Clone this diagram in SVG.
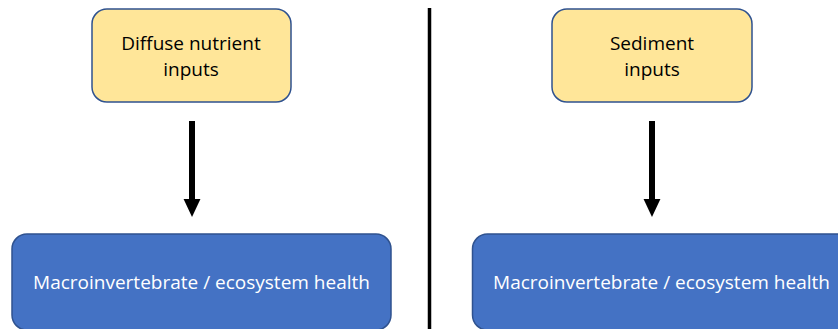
<svg xmlns="http://www.w3.org/2000/svg" width="838" height="329" viewBox="0 0 838 329">
<style>
.src{fill:#FFE699;stroke:#2F528F;stroke-width:1.5}
.dst{fill:#4472C4;stroke:#2F528F;stroke-width:1.5}
.t{font-family:"Open Sans","Liberation Sans",sans-serif;font-size:19px;text-anchor:middle}
.dk{fill:#000}
.wt{fill:#fff}
.conn{stroke:#000;stroke-width:6;fill:none}
</style>
<defs>
<marker id="ah" markerWidth="3" markerHeight="3.2" refX="0" refY="1.5" orient="auto" markerUnits="strokeWidth" viewBox="0 0 3.2 3">
<path d="M0,0 L3.2,1.5 L0,3 Z" fill="#000"/>
</marker>
</defs>
<rect width="838" height="329" fill="#fff"/>
<line x1="429.5" y1="8" x2="429.5" y2="329" stroke="#000" stroke-width="3.5"/>
<g id="diffuse">
<rect class="src" x="92" y="9" width="199" height="93" rx="15"/>
<text class="t dk" x="191" y="50">Diffuse nutrient</text>
<text class="t dk" x="191" y="76">inputs</text>
</g>
<g id="sediment">
<rect class="src" x="552" y="9" width="200" height="93" rx="15"/>
<text class="t dk" x="652" y="50">Sediment</text>
<text class="t dk" x="652" y="76">inputs</text>
</g>
<g id="health-left">
<rect class="dst" x="12" y="234" width="379" height="96" rx="15"/>
<text class="t wt" x="201.5" y="289">Macroinvertebrate / ecosystem health</text>
</g>
<g id="health-right">
<rect class="dst" x="472.5" y="234" width="380" height="96" rx="15"/>
<text class="t wt" x="661.5" y="289">Macroinvertebrate / ecosystem health</text>
</g>
<g id="connectors">
<line class="conn" x1="192" y1="121" x2="192" y2="199" marker-end="url(#ah)"/>
<line class="conn" x1="652" y1="121" x2="652" y2="199" marker-end="url(#ah)"/>
</g>
</svg>
